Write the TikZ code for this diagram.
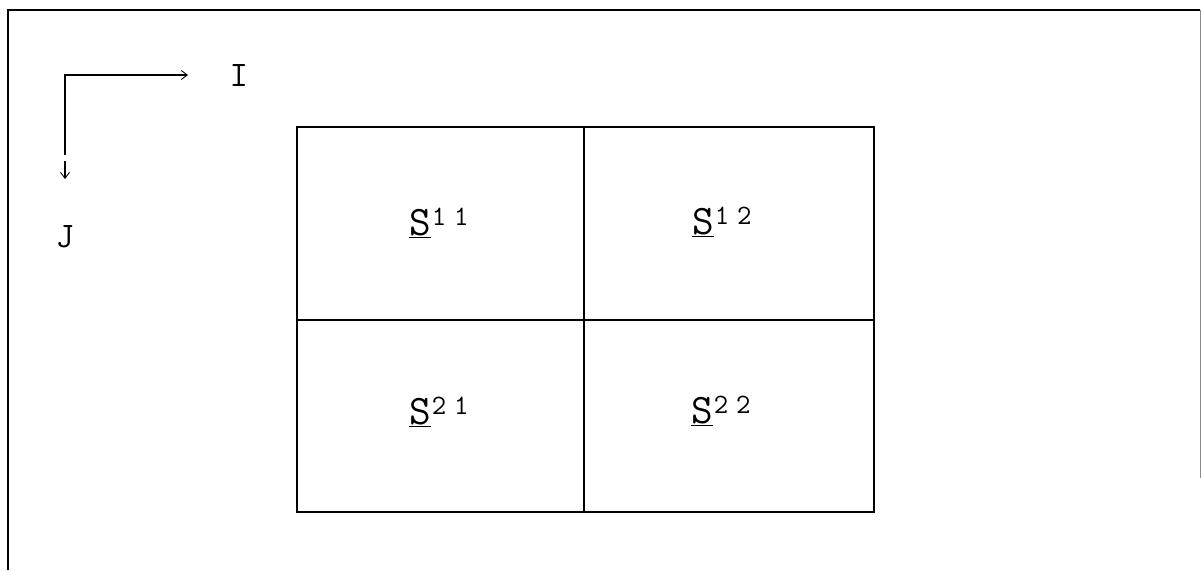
\documentclass[tikz,border=0pt]{standalone}
\usepackage{fontspec}
\newfontfamily\tw{Latin Modern Mono}
\usetikzlibrary{arrows.meta}
\newcommand{\slab}[2]{\underline{S}\hspace{1pt}\raisebox{10pt}{\tw\fontsize{28}{28}\selectfont #1\hspace{8pt}#2}}
\begin{document}
\begin{tikzpicture}[x=1pt,y=-1pt,
  frame/.style={line width=1.3pt,black},
  gridline/.style={line width=1.1pt,black},
  lab/.style={font=\tw\fontsize{42}{42}\selectfont,inner sep=0pt,anchor=base west},
  axlab/.style={font=\tw\fontsize{36}{36}\selectfont,inner sep=0pt},
  axis/.style={line width=1.1pt,-{Straight Barb[length=6pt,width=9pt,line width=0.9pt]}}]
\useasboundingbox (0,0) rectangle (1201,570);
% frame
\draw[frame] (8,570) -- (8,10) -- (1200,10);
\draw[line width=1pt,black!45] (1200,10) -- (1200,478);
% grid
\coordinate (tl) at (297,127);
\coordinate (br) at (874,512);
\draw[gridline] (tl) rectangle (br);
\draw[gridline] (584,127) -- (584,512);
\draw[gridline] (297,320) -- (874,320);
% labels
\node[lab] (s11) at (409,235) {\slab{1}{1}};
\node[lab] (s12) at (692,234) {\slab{1}{2}};
\node[lab] (s21) at (409,424) {\slab{2}{1}};
\node[lab] (s22) at (691,423) {\slab{2}{2}};
% axes
\coordinate (o) at (65,75);
\coordinate (ie) at (188,75);
\coordinate (jv) at (65,155);
\coordinate (js) at (65,161);
\coordinate (je) at (65,179);
\draw[axis] (jv) -- (o) -- (ie);
\draw[axis] (js) -- (je);
\node[axlab] (I) at (239,76) {I};
\node[axlab] (J) at (65,237) {J};
\end{tikzpicture}
\end{document}
